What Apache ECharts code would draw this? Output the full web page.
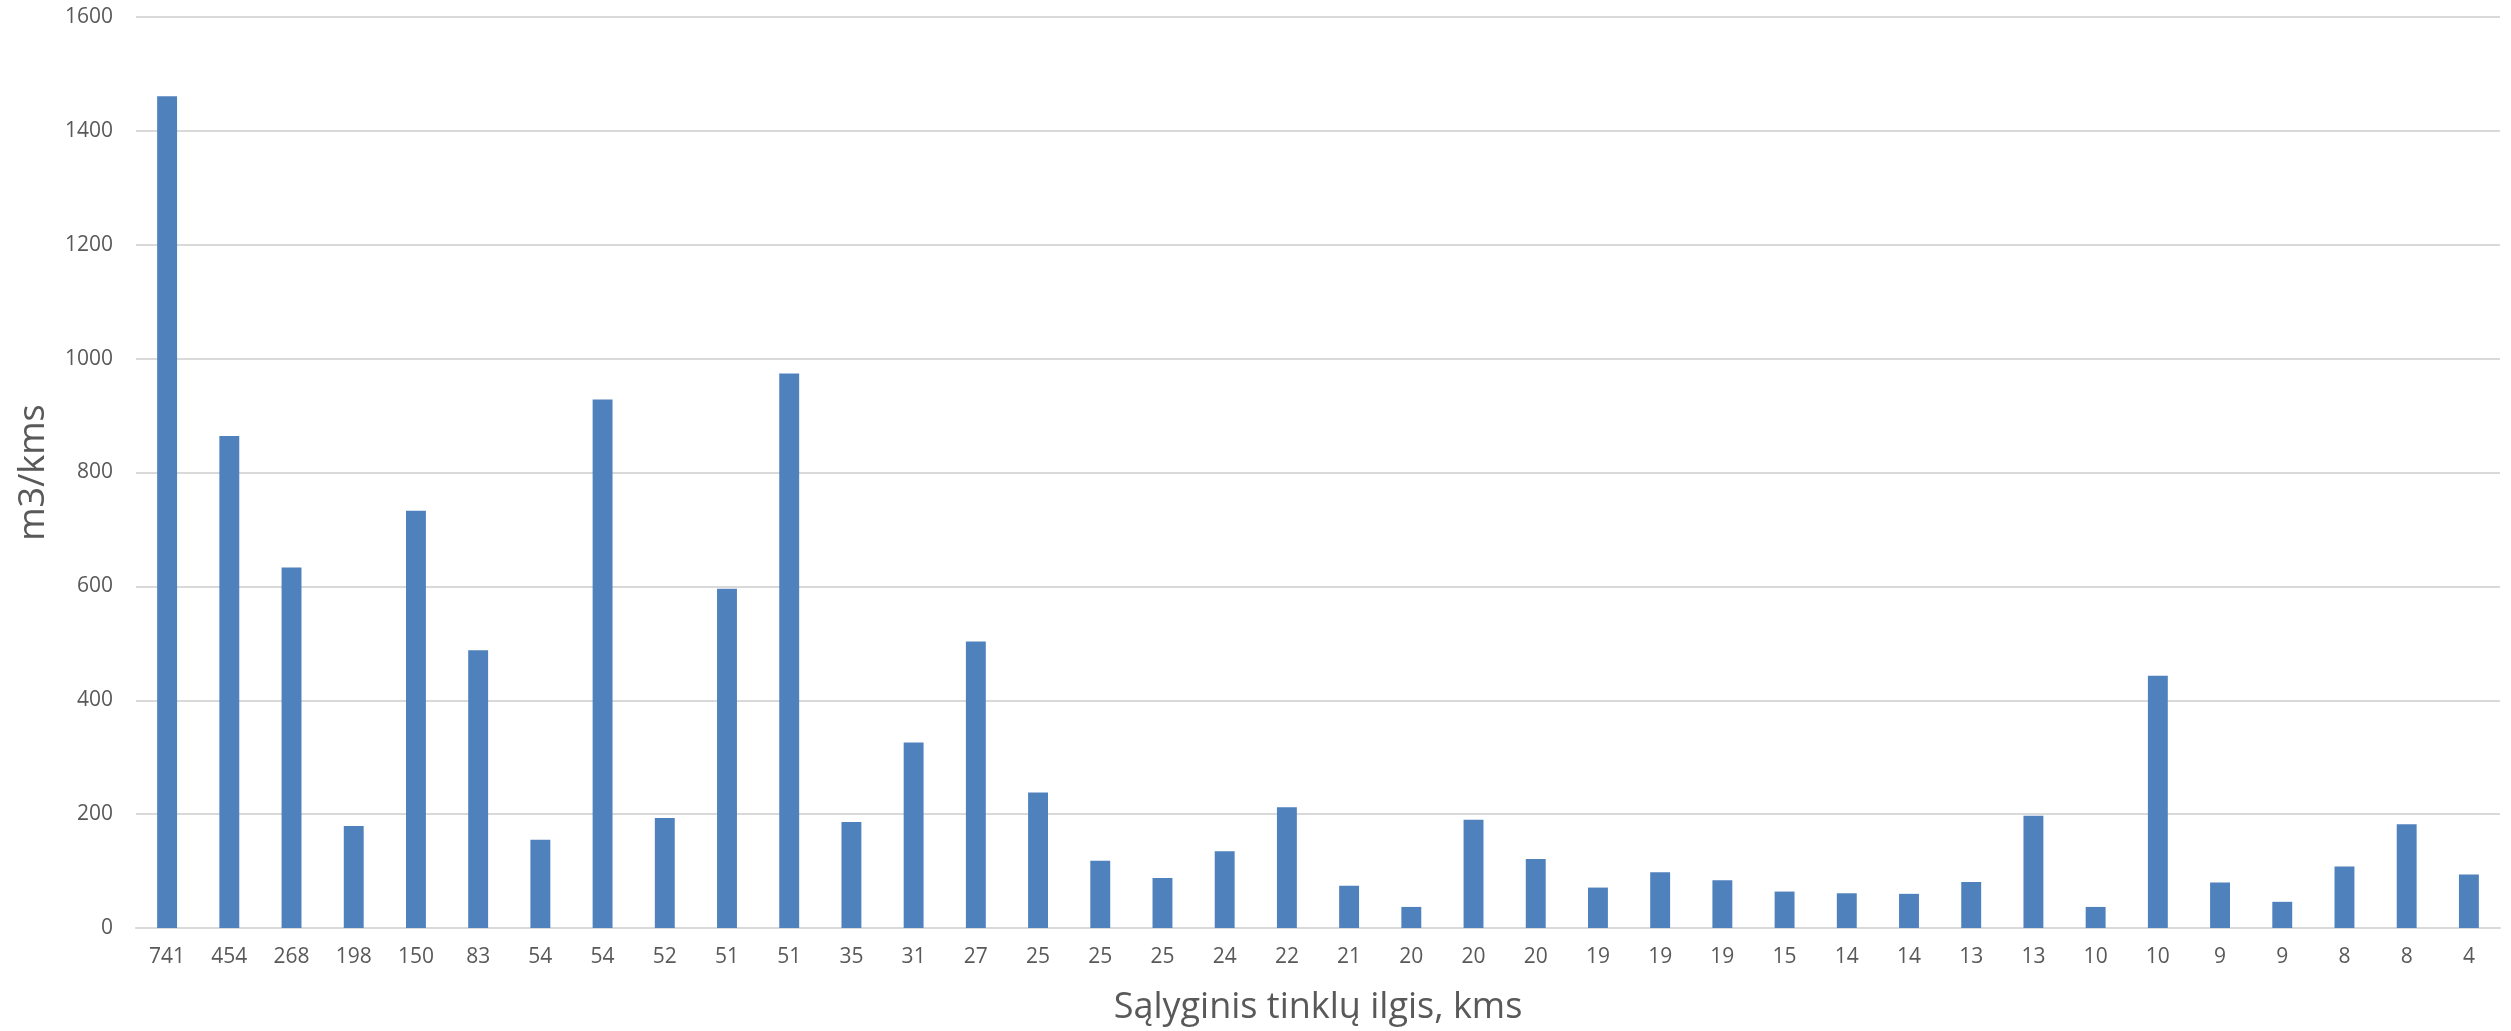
<!DOCTYPE html>
<html>
<head>
<meta charset="utf-8">
<title>m3/kms</title>
<script src="https://cdn.jsdelivr.net/npm/echarts@6/dist/echarts.min.js"></script>
<style>
  html, body { margin: 0; padding: 0; background: #ffffff; }
  #chart { width: 2511px; height: 1031px; }
</style>
</head>
<body>
<div id="chart"></div>
<script>
// Network length per distribution area (km) and volume per km
const categories = ['741', '454', '268', '198', '150', '83', '54', '54', '52', '51', '51', '35', '31', '27', '25', '25', '25', '24', '22', '21', '20', '20', '20', '19', '19', '19', '15', '14', '14', '13', '13', '10', '10', '9', '9', '8', '8', '4'];
const values = [1461, 864, 633, 179, 733, 488, 155, 928, 193, 596, 974, 186, 326, 503, 238, 118, 88, 135, 212, 74, 37, 190, 121, 71, 98, 84, 64, 61, 60, 81, 197, 37, 443, 80, 46, 108, 182, 94];
const yTicks = { min: 0, max: 1600, interval: 200 };

const textColor = '#595959';
const gridColor = '#d9d9d9';
const fontFamily = '"Open Sans", "Noto Sans", sans-serif';

const chart = echarts.init(document.getElementById('chart'), null, { renderer: 'canvas' });

chart.setOption({
  backgroundColor: '#ffffff',
  animation: false,
  grid: { left: 136, right: 11, top: 17, bottom: 103, containLabel: false, outerBoundsMode: 'none' },
  xAxis: {
    type: 'category',
    data: categories,
    name: 'Sąlyginis tinklų ilgis, kms',
    nameLocation: 'middle',
    nameGap: 62,
    nameTextStyle: { color: textColor, fontSize: 36, fontFamily: fontFamily },
    axisLine: { show: true, lineStyle: { color: gridColor, width: 2 } },
    axisTick: { show: false },
    axisLabel: { color: textColor, fontSize: 21, fontFamily: fontFamily, margin: 19, interval: 0 }
  },
  yAxis: {
    type: 'value',
    min: yTicks.min,
    max: yTicks.max,
    interval: yTicks.interval,
    name: 'm3/kms',
    nameLocation: 'middle',
    nameRotate: 90,
    nameGap: 84,
    nameTextStyle: { color: textColor, fontSize: 36, fontFamily: fontFamily },
    axisLine: { show: false },
    axisTick: { show: false },
    axisLabel: {
      color: textColor, fontSize: 21, fontFamily: fontFamily, margin: 23,
      formatter: function (v) { return String(v); }
    },
    splitLine: { lineStyle: { color: gridColor, width: 2 } }
  },
  series: [{
    type: 'bar',
    data: values,
    barWidth: '32%',
    itemStyle: { color: '#4f81bd' }
  }]
});
</script>
</body>
</html>
